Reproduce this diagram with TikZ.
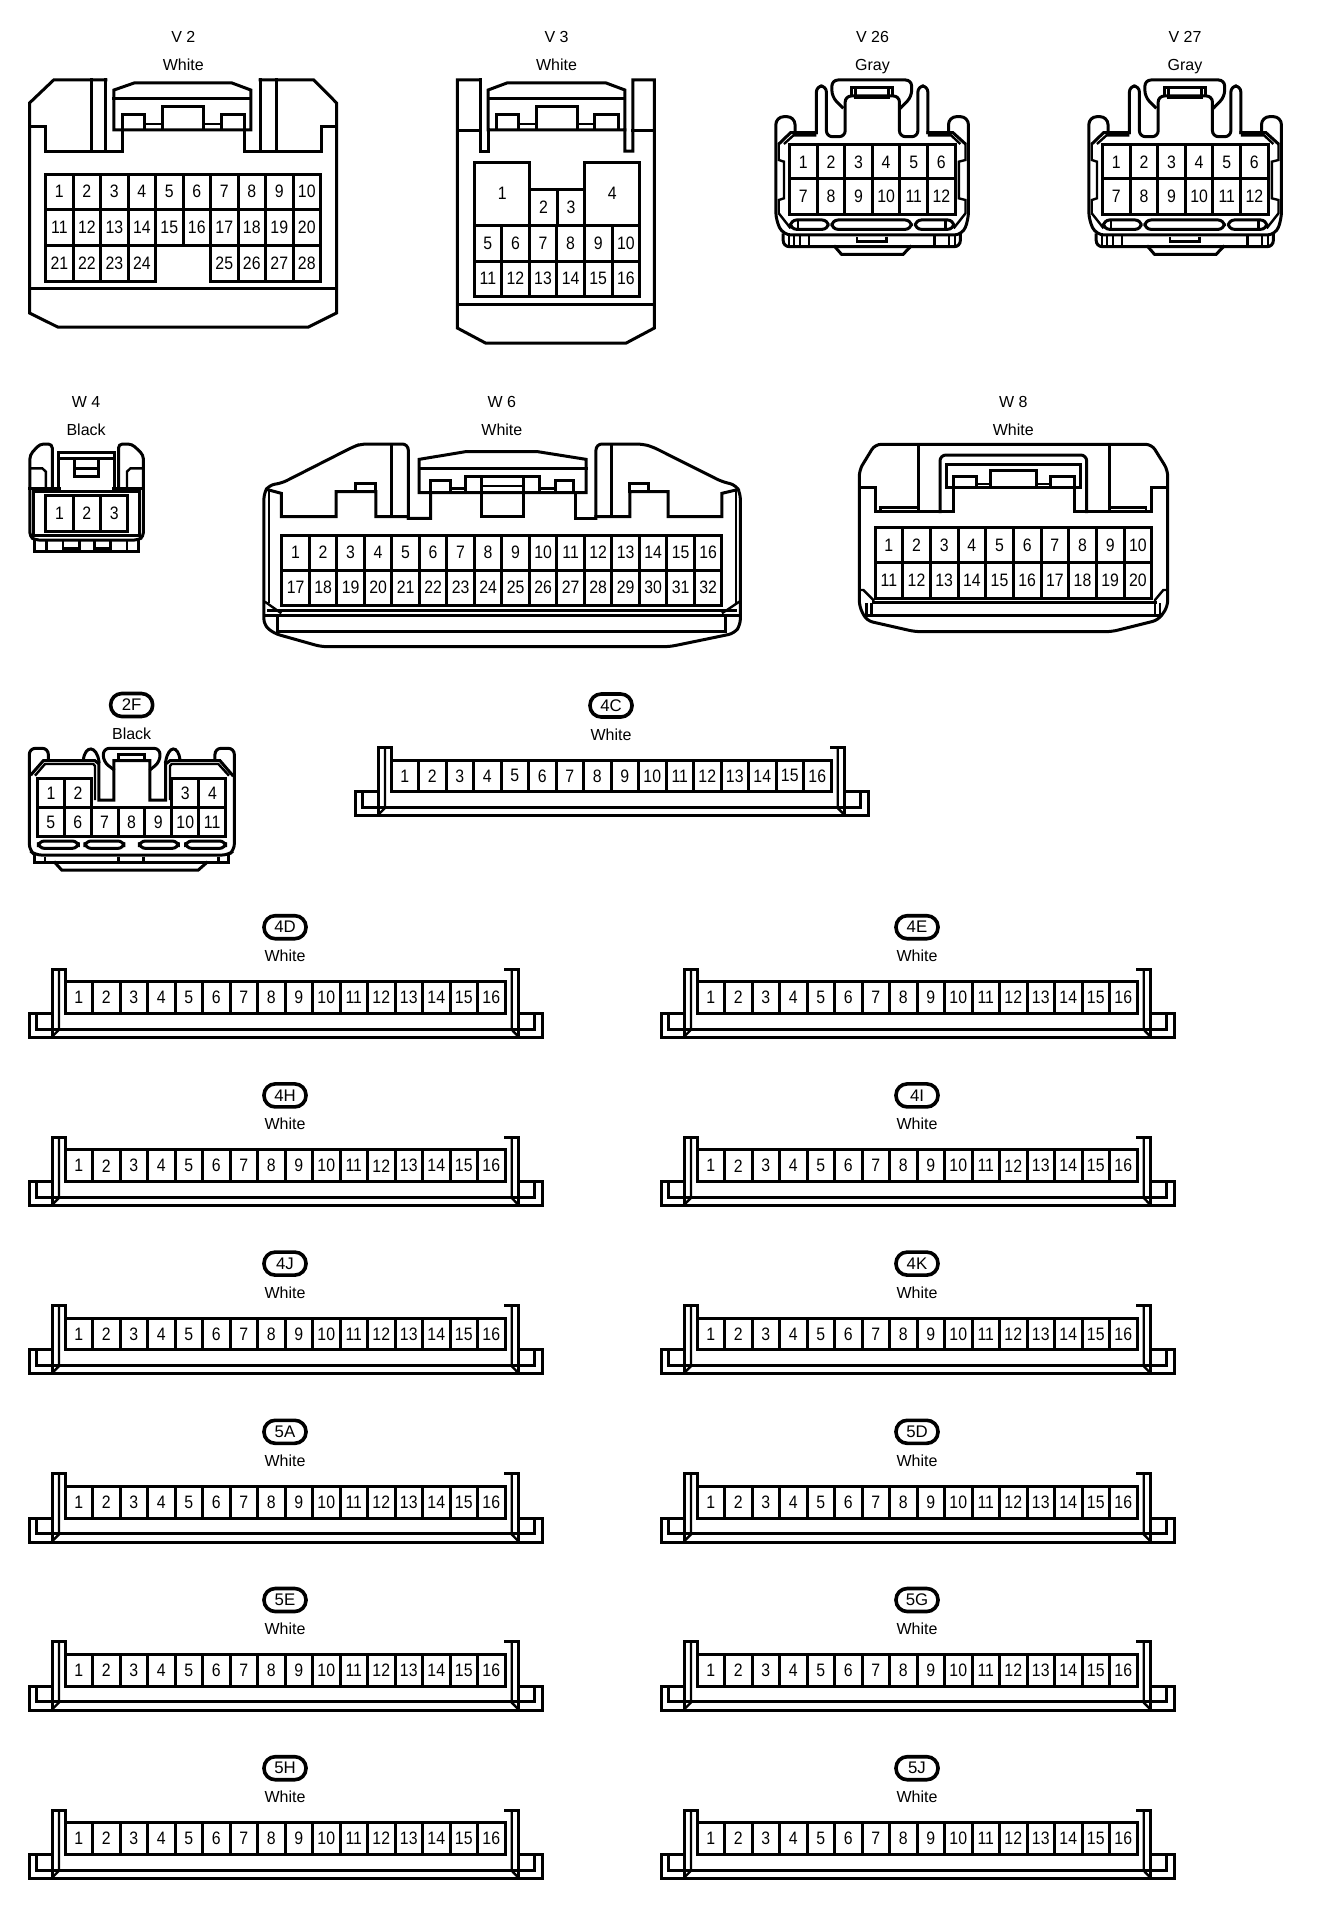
\documentclass[tikz,border=0pt]{standalone}
\usepackage{fontspec}
\newfontfamily\nf{Liberation Sans}
\newfontfamily\df[FakeStretch=0.88]{Liberation Sans}
\tikzset{
  ln/.style={line width=1.5pt,line join=miter,miter limit=3,line cap=rect},
  tn/.style={line width=1.2pt,line join=miter,miter limit=3,line cap=butt},
  num/.style={font=\df\fontsize{9}{10}\selectfont,inner sep=0pt,text=black},
  lab/.style={font=\nf\fontsize{8}{10}\selectfont,inner sep=0pt,text=black},
  gry/.style={lab,anchor=base,yshift=-2.7pt},
  bub/.style={draw,line width=1.8pt,rounded corners=5.6pt,minimum width=21pt,minimum height=11.5pt,inner sep=0pt,
     font=\nf\fontsize{8.4}{10}\selectfont},
}
\newcounter{nn}
\newcommand\pinrow[6]{%
  \foreach \n in {#5,...,#6}{%
    \pgfmathsetmacro\xa{#1+(\n-#5)*#2}%
    \pgfmathsetmacro\xb{\xa+#2}%
    \pgfmathsetmacro\xm{\xa+#2/2}%
    \pgfmathsetmacro\ym{(#3+#4)/2}%
    \stepcounter{nn}%
    \draw[ln] (\xa,#3) rectangle (\xb,#4);
    \node[num] (p\thenn) at (\xm,\ym) {\n};
  }%
}
\newcommand\strip[4]{%
  \begin{scope}[shift={(#1,#2)}]
    \stepcounter{nn}%
    \node[bub] (b\thenn) at (256,-54.5) {#3};
    \node[lab] (l\thenn) at (256,-25.7) {#4};
    \draw[ln] (23.3,31.7)--(0,31.7)--(0,55.7)--(513.7,55.7)--(513.7,31.7)--(489.3,31.7);
    \draw[ln] (7.7,31.7)--(7.7,47.3)--(505.3,47.3)--(505.3,31.7);
    \draw[ln] (23.3,54)--(23.3,-12.7)--(36,-12.7)--(36,31.7);
    \draw[tn] (30,-12.7)--(30,48)--(24,54);
    \draw[ln] (476,-12.7)--(489.3,-12.7)--(489.3,54);
    \draw[tn] (482.7,-12.7)--(482.7,48)--(488.5,54);
    \pinrow{36}{27.5}{0}{31.7}{1}{16}
  \end{scope}%
}
\newcommand\grayconn[1]{%
  \begin{scope}[shift={(#1,0)},xscale=1/2.71,yscale=1/3]
    % outer body and tabs
    \draw[ln,rounded corners=4pt] (122,398)--(122,350)--(70,350)--(70,660)--(90,705)--(575,705)--(592,660)--(592,350)--(538,350)--(538,398);
    \draw[ln] (80,430)--(110,398)--(180,398);
    \draw[ln,rounded corners=3pt] (180,398)--(180,258)--(207,258)--(207,410)--(258,410)--(258,288)--(405,288)--(405,410)--(455,410)--(455,258)--(482,258)--(482,398);
    \draw[ln] (482,398)--(550,398)--(582,430);
    \draw[tn] (92,432)--(118,406)--(180,406);
    \draw[tn] (570,432)--(545,406)--(482,406);
    % latch
    \draw[ln,rounded corners=3pt] (250,322)--(222,290)--(222,240)--(438,240)--(438,290)--(410,322);
    \draw[ln] (275,288)--(275,262)--(385,262)--(385,288);
    \draw[ln] (285,265)--(285,292)--(375,292)--(375,265);
    % side notches
    \draw[tn] (78,432)--(78,480)--(92,485)--(92,595)--(78,600)--(78,640)--(110,685);
    \draw[tn] (584,432)--(584,480)--(566,485)--(566,595)--(584,600)--(584,640)--(552,685);
    % slots
    \draw[ln,rounded corners=3pt] (110,660) rectangle (212,688);
    \draw[ln,rounded corners=3pt] (222,660) rectangle (437,688);
    \draw[ln,rounded corners=3pt] (448,660) rectangle (552,688);
    \draw[tn] (130,662)--(130,686) (530,662)--(530,686);
    % bottom
    \draw[ln,rounded corners=3pt] (90,705)--(90,740)--(570,740)--(570,705);
    \draw[tn] (105,705)--(105,740) (120,705)--(120,740) (135,705)--(135,740) (160,705)--(160,740)
      (500,705)--(500,740) (540,705)--(540,740) (555,705)--(555,740);
    \draw[tn] (290,712)--(290,725)--(370,725)--(370,712);
    \draw[ln] (230,740)--(248,763)--(415,763)--(435,740);
    \pinrow{107}{74.83}{435}{537}{1}{6}
    \pinrow{107}{74.83}{537}{643}{7}{12}
  \end{scope}%
}
\begin{document}
\begin{tikzpicture}[x=0.5pt,y=-0.5pt]
\useasboundingbox (0,0) rectangle (1328,1916);
\fill[white] (0,0) rectangle (1328,1916);

\begin{scope}[xscale=1.341]
% ---------- V2
\node[lab] (v2) at (136.7,37.3) {V 2};
\node[lab] (v2c) at (136.7,65) {White};
\draw[ln] (79,80)--(40,80)--(22,103)--(22,313)--(43,327)--(230,327)--(251,313)--(251,103)--(234,80)--(194,80);
\draw[ln] (22,127)--(34,127)--(34,151)--(91,151)--(91,130);
\draw[ln] (79,80)--(79,151);
\draw[ln] (68,80)--(68,151);
\draw[ln] (251,127)--(240,127)--(240,151)--(182,151)--(182,130);
\draw[ln] (194,80)--(194,151);
\draw[ln] (206,80)--(206,151);
\draw[ln] (85,130)--(85,90)--(100,83)--(173,83)--(187,90)--(187,130)--cycle;
\draw[ln] (85,99)--(187,99);
\draw[ln] (91,130)--(91,115)--(108,115)--(108,130);
\draw[tn] (108,124)--(121,124);
\draw[ln] (121,130)--(121,107)--(152,107)--(152,130);
\draw[tn] (152,124)--(165,124);
\draw[ln] (165,130)--(165,115)--(182,115)--(182,130);
\draw[ln] (22,288)--(251,288);
\pinrow{34}{20.5}{174}{209}{1}{10}
\pinrow{34}{20.5}{209}{245}{11}{20}
\pinrow{34}{20.5}{245}{281}{21}{24}
\pinrow{157}{20.5}{245}{281}{25}{28}

% ---------- V3
\node[lab] (v3) at (415,37.3) {V 3};
\node[lab] (v3c) at (415,65) {White};
\draw[ln] (358,80)--(341,80)--(341,328)--(362,343)--(467,343)--(488,328)--(488,80)--(472,80)--(472,151)--(466,151)--(466,130);
\draw[ln] (358,80)--(358,151)--(364,151)--(364,130);
\draw[ln] (341,131)--(358,131) (472,131)--(488,131);
\draw[ln] (364,130)--(364,90)--(378,83)--(452,83)--(466,90)--(466,130)--cycle;
\draw[ln] (364,99)--(466,99);
\draw[ln] (370,130)--(370,115)--(387,115)--(387,130);
\draw[tn] (387,124)--(400,124);
\draw[ln] (400,130)--(400,107)--(431,107)--(431,130);
\draw[tn] (431,124)--(443,124);
\draw[ln] (443,130)--(443,115)--(461,115)--(461,130);
\draw[ln] (341,304)--(488,304);
\draw[ln] (353.5,162.5) rectangle (395,225);
\node[num] (v3p1) at (374.5,193) {1};
\draw[ln] (436,162.5) rectangle (477,225);
\node[num] (v3p4) at (456.5,193) {4};
\pinrow{395}{20.5}{189.5}{225}{2}{3}
\pinrow{353.5}{20.58}{225}{261}{5}{10}
\pinrow{353.5}{20.58}{261}{296}{11}{16}
\end{scope}

% ---------- V26 / V27
\node[lab] (v26) at (872.5,37.3) {V 26};
\node[lab] (v26c) at (872.5,67) {Gray};
\grayconn{750}
\node[lab] (v27) at (1185,37.3) {V 27};
\node[lab] (v27c) at (1185,67) {Gray};
\grayconn{1063}

% ---------- W4
\begin{scope}[shift={(0,380)},xscale=1/2.008,yscale=1/3]
\node[lab] (w4) at (173,66) {W 4};
\node[lab] (w4c) at (173,148) {Black};
\draw[ln,rounded corners=2pt] (105,325)--(105,192)--(80,192)--(60,225)--(60,470)--(70,480)--(278,480)--(288,470)--(288,225)--(265,192)--(238,192)--(238,325);
\draw[ln] (70,480)--(70,515)--(278,515)--(278,480);
\draw[tn] (93,480)--(93,515) (127,480)--(127,505)--(160,505)--(160,480) (190,480)--(190,505)--(222,505)--(222,480) (255,480)--(255,515) (127,505)--(127,515) (160,505)--(160,515) (190,505)--(190,515) (222,505)--(222,515);
\draw[ln] (118,330)--(118,217)--(230,217)--(230,330);
\draw[ln] (118,236)--(230,236);
\draw[ln] (150,240)--(150,290)--(198,290)--(198,240);
\draw[tn] (150,265)--(198,265);
\draw[ln] (60,325)--(120,325) (228,325)--(288,325);
\draw[tn] (62,265)--(85,265)--(92,275)--(92,325);
\draw[tn] (286,265)--(262,265)--(255,275)--(255,325);
\draw[ln] (68,335) rectangle (280,465);
\pinrow{92}{55}{345}{453}{1}{3}
\end{scope}

% ---------- W6
\begin{scope}[shift={(0,380)},xscale=1/2.008,yscale=1/3]
\node[lab] (w6) at (1008,66) {W 6};
\node[lab] (w6c) at (1008,148) {White};
\draw[ln,rounded corners=3pt] (820,415)--(820,192)--(725,192)--(710,200)--(565,310)--(540,315)--(530,340)--(530,735)--(550,760)--(645,800)--(1345,800)--(1475,760)--(1487,735)--(1487,340)--(1478,315)--(1450,305)--(1310,200)--(1290,192)--(1197,192)--(1197,415);
\draw[ln] (787,192)--(787,410) (1228,192)--(1228,410);
\draw[ln] (540,330)--(565,340)--(565,410)--(675,410)--(675,335)--(755,335)--(755,410)--(820,410)--(820,415)--(865,415)--(865,340);
\draw[tn] (540,330)--(540,668) (1478,330)--(1478,668);
\draw[ln] (715,335)--(715,310)--(755,310)--(755,335);
\draw[ln] (1155,340)--(1155,415)--(1197,415);
\draw[ln] (1197,410)--(1265,410)--(1265,335)--(1342,335)--(1342,410)--(1450,410)--(1450,340)--(1478,330);
\draw[ln] (1265,335)--(1265,310)--(1302,310)--(1302,335);
\draw[ln] (842,338)--(842,238)--(935,215)--(1080,215)--(1177,238)--(1177,338)--cycle;
\draw[ln] (842,265)--(1177,265);
\draw[ln] (865,338)--(865,302)--(905,302)--(905,338);
\draw[tn] (905,325)--(935,325);
\draw[ln] (935,338)--(935,288)--(1083,288)--(1083,338);
\draw[tn] (1083,325)--(1115,325);
\draw[ln] (1115,338)--(1115,302)--(1152,302)--(1152,338);
\draw[ln] (968,288)--(968,410)--(1052,410)--(1052,288);
\draw[tn] (968,318)--(1052,318);
\draw[tn] (532,665)--(565,700) (1485,665)--(1450,700);
\draw[ln] (540,690)--(1478,690);
\draw[ln] (532,705)--(1485,705);
\draw[ln] (558,705)--(558,755)--(1458,755)--(1458,705);
\pinrow{566}{55.25}{465}{570}{1}{16}
\pinrow{566}{55.25}{570}{675}{17}{32}
\end{scope}

% ---------- W8
\begin{scope}[shift={(840,380)},scale=1/3]
\node[lab] (w8) at (520,66) {W 8};
\node[lab] (w8c) at (520,148) {White};
\draw[ln,rounded corners=3pt] (58,270)--(105,193)--(935,193)--(983,270)--(983,680)--(955,720)--(815,755)--(225,755)--(80,722)--(58,680)--cycle;
\draw[ln] (235,193)--(235,395) (808,193)--(808,395);
\draw[ln] (58,322)--(105,322)--(105,395)--(340,395)--(340,290)--(410,290)--(410,320);
\draw[ln] (983,322)--(935,322)--(935,395)--(702,395)--(702,290)--(632,290)--(632,320);
\draw[tn] (122,395)--(122,382)--(235,382) (808,382)--(918,382)--(918,395);
\draw[ln,rounded corners=3pt] (300,395)--(300,225)--(740,225)--(740,395);
\draw[ln] (318,322)--(318,253)--(722,253)--(722,322)--cycle;
\draw[ln] (452,322)--(452,270)--(588,270)--(588,322);
\draw[tn] (410,312)--(452,312) (588,312)--(632,312);
\draw[tn] (60,630)--(70,630)--(100,660)--(100,670) (980,630)--(970,630)--(945,660)--(945,670);
\draw[ln] (100,668)--(945,668);
\draw[ln] (78,705)--(962,705);
\draw[tn] (80,670)--(80,705) (95,670)--(95,705) (945,670)--(945,705) (960,670)--(960,705);
\pinrow{105}{83}{443}{548}{1}{10}
\pinrow{105}{83}{548}{655}{11}{20}
\end{scope}

% ---------- 2F
\begin{scope}[shift={(0,680)},scale=1/3]
\node[bub] (c2f) at (395,75) {2F};
\node[lab] (c2fc) at (395,160) {Black};
\draw[ln,rounded corners=3pt] (145,240)--(145,205)--(88,205)--(88,510)--(105,525)--(685,525)--(703,510)--(703,205)--(645,205)--(645,240);
\draw[ln] (95,282)--(130,242)--(285,242)--(297,252)--(297,360)--(342,360)--(342,242)--(450,242)--(450,360)--(497,360)--(497,252)--(510,242)--(660,242)--(697,285);
\draw[tn] (105,287)--(135,252)--(280,252)--(285,258)--(285,360) (510,360)--(510,258)--(515,252)--(655,252)--(687,287);
\draw[ln,rounded corners=3pt] (340,268)--(310,245)--(310,205)--(480,205)--(480,245)--(452,268);
\draw[ln] (355,242)--(355,222)--(435,222)--(435,242);
\draw[ln] (250,240) .. controls (255,195) and (290,195) .. (297,245);
\draw[ln] (497,245) .. controls (505,195) and (535,195) .. (540,240);
\draw[ln,rounded corners=3pt] (115,483) rectangle (235,505);
\draw[ln,rounded corners=3pt] (255,483) rectangle (372,505);
\draw[ln,rounded corners=3pt] (418,483) rectangle (535,505);
\draw[ln,rounded corners=3pt] (557,483) rectangle (677,505);
\draw[ln] (105,525)--(105,548)--(685,548)--(685,525);
\draw[tn] (135,530)--(135,548) (355,530)--(355,548) (430,530)--(430,548) (655,530)--(655,548);
\draw[ln] (165,548)--(185,570)--(595,570)--(620,548);
\pinrow{112}{81.5}{295}{382}{1}{2}
\pinrow{515}{81.5}{295}{382}{3}{4}
\pinrow{112}{80.7}{382}{470}{5}{11}
\end{scope}

% ---------- strips
\strip{355}{760}{4C}{White}
\strip{29}{981.7}{4D}{White}
\strip{661}{981.7}{4E}{White}
\strip{29}{1149.9}{4H}{White}
\strip{661}{1149.9}{4I}{White}
\strip{29}{1318.1}{4J}{White}
\strip{661}{1318.1}{4K}{White}
\strip{29}{1486.3}{5A}{White}
\strip{661}{1486.3}{5D}{White}
\strip{29}{1654.5}{5E}{White}
\strip{661}{1654.5}{5G}{White}
\strip{29}{1822.7}{5H}{White}
\strip{661}{1822.7}{5J}{White}
\end{tikzpicture}
\end{document}
